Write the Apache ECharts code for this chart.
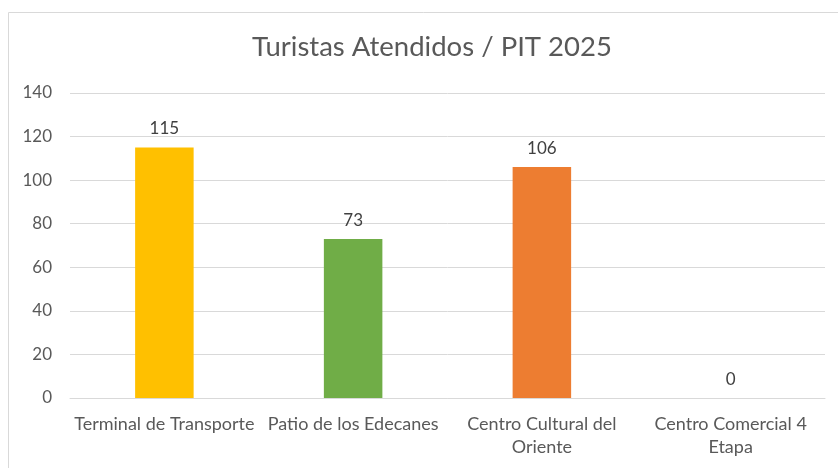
<!DOCTYPE html>
<html>
<head>
<meta charset="utf-8">
<script src="https://cdn.jsdelivr.net/npm/echarts@6/dist/echarts.min.js"></script>
<style>
  html, body { margin: 0; padding: 0; background: #fff; }
  #main { width: 838px; height: 468px; }
</style>
</head>
<body>
<div id="main"></div>
<script>
const categories = ['Terminal de Transporte', 'Patio de los Edecanes', 'Centro Cultural del Oriente', 'Centro Comercial 4 Etapa']
// tick labels as wrapped in the original
const tickLabels = ['Terminal de Transporte', 'Patio de los Edecanes', 'Centro Cultural del\nOriente', 'Centro Comercial 4\nEtapa']
const values = [115, 73, 106, 0]
const barColors = ['#FFC000', '#70AD47', '#ED7D31', '#5B9BD5']

const chart = echarts.init(document.getElementById('main'))
const font = 'Lato, "Open Sans", sans-serif'

chart.setOption({
  animation: false,
  title: {
    text: 'Turistas Atendidos / PIT 2025',
    left: 427,
    textAlign: 'center',
    top: 28,
    textStyle: { fontFamily: font, fontSize: 27.5, fontWeight: 'normal', color: '#595959' }
  },
  graphic: [
    {
      type: 'rect',
      shape: { x: 8.5, y: 12.5, width: 840, height: 470 },
      style: { fill: 'none', stroke: '#d9d9d9', lineWidth: 1 },
      silent: true
    }
  ],
  grid: { left: 70, right: 13, top: 93, bottom: 70 },
  xAxis: {
    type: 'category',
    data: categories,
    axisTick: { show: false },
    axisLine: { lineStyle: { color: '#d9d9d9' } },
    axisLabel: {
      interval: 0,
      margin: 15,
      fontFamily: font,
      fontSize: 18,
      color: '#595959',
      lineHeight: 23,
      formatter: (v, i) => tickLabels[i]
    }
  },
  yAxis: {
    type: 'value',
    min: 0,
    max: 140,
    interval: 20,
    axisLine: { show: false },
    axisTick: { show: false },
    splitLine: { lineStyle: { color: '#d9d9d9' } },
    axisLabel: { margin: 18, fontFamily: font, fontSize: 17, color: '#595959' }
  },
  series: [
    {
      type: 'bar',
      data: values.map((v, i) => ({ value: v, itemStyle: { color: barColors[i] } })),
      barWidth: '31%',
      label: {
        show: true,
        position: 'top',
        distance: 10,
        fontFamily: font,
        fontSize: 17,
        color: '#404040'
      }
    }
  ]
})
</script>
</body>
</html>
